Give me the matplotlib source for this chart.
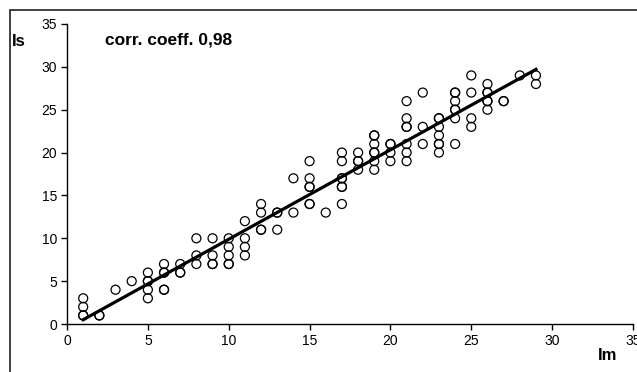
import numpy as np
import matplotlib
matplotlib.use('Agg')
from matplotlib import pyplot as plt
from matplotlib.patches import Rectangle

plt.rcParams['font.family'] = ['Liberation Sans', 'DejaVu Sans']

# measured (Im) vs simulated (Is) values, one entry per point
im = [1, 1, 1, 1, 2, 2, 3, 4,
      5, 5, 5, 5, 5, 6, 6, 6, 6, 6, 7, 7, 7,
      8, 8, 8, 9, 9, 9, 9, 10, 10, 10, 10, 10,
      11, 11, 11, 11, 12, 12, 12, 12, 13, 13, 13, 14, 14,
      15, 15, 15, 15, 15, 15, 16,
      17, 17, 17, 17, 17, 17, 17, 18, 18, 18, 18,
      19, 19, 19, 19, 19, 19, 19, 20, 20, 20, 20,
      21, 21, 21, 21, 21, 21, 21, 22, 22, 22,
      23, 23, 23, 23, 23, 23, 23, 24, 24, 24, 24, 24, 24, 24,
      25, 25, 25, 25, 26, 26, 26, 26, 26, 26, 27, 27, 28, 29, 29]
is_ = [1, 1, 2, 3, 1, 1, 4, 5,
       3, 4, 5, 5, 6, 7, 6, 6, 4, 4, 7, 6, 6,
       10, 8, 7, 10, 8, 7, 7, 10, 9, 8, 7, 7,
       12, 10, 9, 8, 14, 13, 11, 11, 13, 13, 11, 17, 13,
       19, 17, 16, 16, 14, 14, 13,
       20, 19, 17, 17, 16, 16, 14, 20, 19, 19, 18,
       22, 22, 21, 20, 20, 19, 18, 21, 21, 20, 19,
       26, 24, 23, 23, 21, 20, 19, 27, 23, 21,
       24, 24, 23, 22, 21, 21, 20, 27, 27, 26, 25, 25, 24, 21,
       29, 27, 24, 23, 28, 27, 27, 26, 26, 25, 26, 26, 29, 29, 28]

ticks = [0, 5, 10, 15, 20, 25, 30, 35]

fig = plt.figure(figsize=(6.37, 3.72), dpi=100)
ax = fig.add_axes([0.1052, 0.129, 0.8885, 0.8065])

# outer frame, only top and left edges fall inside the image
fig.patches.append(Rectangle((10 / 637, -0.2), 1.2, 1.2 - 10 / 372,
                             transform=fig.transFigure, fill=False,
                             edgecolor='#333333', linewidth=1.3))

ax.scatter(im, is_, s=42, facecolors='none', edgecolors='black',
           linewidths=0.9, zorder=2)

# least squares line over the data range
k, b = np.polyfit(im, is_, 1)
xs = np.array([min(im), max(im)])
ax.plot(xs, k * xs + b, color='black', linewidth=2.3, zorder=3)

ax.set_xlim(0, 35)
ax.set_ylim(0, 35)
ax.set_xticks(ticks)
ax.set_yticks(ticks)
for s in ['top', 'right']:
    ax.spines[s].set_visible(False)
for s in ['left', 'bottom']:
    ax.spines[s].set_linewidth(1.0)
ax.tick_params(direction='out', length=4, width=1, labelsize=10, pad=3)

fig.text(12 / 637, 1 - 41 / 372, 'Is', fontsize=12, fontweight='bold', va='center')
fig.text(598 / 637, 1 - 355 / 372, 'Im', fontsize=12, fontweight='bold', va='center')
fig.text(105 / 637, 1 - 40 / 372, 'corr. coeff. 0,98', fontsize=12.5,
         fontweight='bold', va='center')

fig.savefig('out.png', dpi=100)
